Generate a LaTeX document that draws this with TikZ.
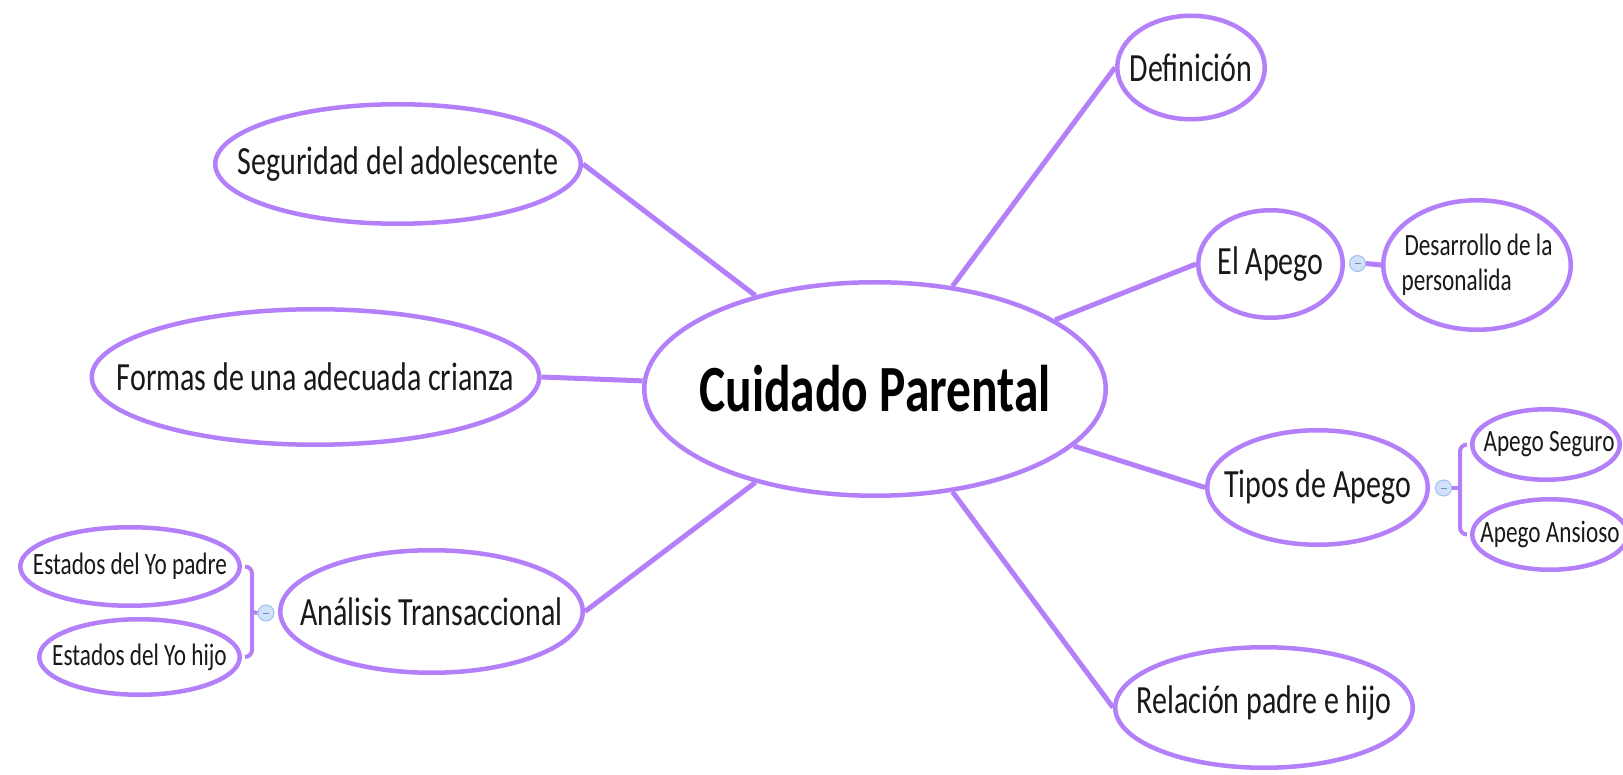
\documentclass[tikz,border=0pt]{standalone}
\usepackage{fontspec}
\setmainfont{Carlito}[FakeStretch=0.75]
\usetikzlibrary{shapes.geometric}
\definecolor{vio}{RGB}{180,128,250}
\definecolor{foldfill}{RGB}{210,225,250}
\definecolor{folddraw}{RGB}{160,190,235}
\definecolor{foldmark}{RGB}{120,140,180}
\definecolor{txt}{RGB}{25,25,25}
\begin{document}
\begin{tikzpicture}[x=1pt,y=-1pt,
  bub/.style={ellipse, draw=vio, line width=4.5pt, fill=white, inner sep=0pt},
  lbl/.style={inner sep=0pt, text=txt, font=\fontsize{40}{48}\selectfont},
  slbl/.style={lbl, font=\fontsize{31}{35}\selectfont},
  conn/.style={draw=vio, line width=5pt},
  brk/.style={draw=vio, line width=4pt, rounded corners=7pt},
  fold/.style={circle, draw=folddraw, fill=foldfill, line width=1pt,
    minimum size=16pt, inner sep=0pt,
    path picture={\draw[foldmark, line width=0.8pt]
      ([xshift=-3pt]path picture bounding box.center) --
      ([xshift=3pt]path picture bounding box.center);}}]
\clip (0,0) rectangle (1623,775);
\fill[white] (0,0) rectangle (1623,775);

% bubbles
\node[bub, minimum width=461.5pt, minimum height=213.5pt] (c) at (875,389) {};
\node[bub, minimum width=147.5pt, minimum height=103.5pt] (def) at (1191,67.5) {};
\node[bub, minimum width=365.5pt, minimum height=119.5pt] (seg) at (398,164) {};
\node[bub, minimum width=447.5pt, minimum height=135.5pt] (for) at (315.5,377) {};
\node[bub, minimum width=302.5pt, minimum height=122.5pt] (ana) at (431.5,611.5) {};
\node[bub, minimum width=297.5pt, minimum height=120.5pt] (rel) at (1264,707.5) {};
\node[bub, minimum width=220.5pt, minimum height=114.5pt] (tip) at (1317.5,487.5) {};
\node[bub, minimum width=144.5pt, minimum height=107.5pt] (ape) at (1270.5,264) {};
\node[bub, minimum width=187.5pt, minimum height=129.5pt] (des) at (1477,265) {};
\node[bub, minimum width=147.5pt, minimum height=70.5pt] (aseg) at (1546,444.5) {};
\node[bub, minimum width=155.5pt, minimum height=70.5pt] (aans) at (1550,534.5) {};
\node[bub, minimum width=219.5pt, minimum height=78.5pt] (ypa) at (130,566.5) {};
\node[bub, minimum width=200.5pt, minimum height=75.5pt] (yhi) at (139.5,657) {};

% labels
\node[lbl, text=black, font=\fontsize{66}{70}\bfseries\selectfont] (ct) at (c) {Cuidado Parental};
\node[lbl] (deft) at (def) {Definición};
\node[lbl] (segt) at (seg) {Seguridad del adolescente};
\node[lbl] (fort) at (for) {Formas de una adecuada crianza};
\node[lbl] (anat) at (ana) {Análisis Transaccional};
\node[lbl] (relt) at ([yshift=4pt]rel.center) {Relación padre e hijo};
\node[lbl] (tipt) at (tip) {Tipos de Apego};
\node[lbl] (apet) at (ape) {El Apego};
\node[slbl, align=left] (dest) at (des) {\hspace{3pt}Desarrollo de la\\personalida};
\node[slbl] (asegt) at ([xshift=3pt]aseg.center) {Apego Seguro};
\node[slbl] (aanst) at (aans) {Apego Ansioso};
\node[slbl] (ypat) at (ypa) {Estados del Yo padre};
\node[slbl] (yhit) at (yhi) {Estados del Yo hijo};

% fold markers
\node[fold] (fape) at (1357.5,263.5) {};
\node[fold] (ftip) at (1443.5,488) {};
\node[fold] (fana) at (266,613) {};
\coordinate (brR) at (1460,488);
\coordinate (brL) at (252,612);

% connectors
\draw[conn] (c.142) -- (seg.east);
\draw[conn] (c.178.5) -- (for.east);
\draw[conn] (c.-142) -- (ana.east);
\draw[conn] (c.53) -- (def.west);
\draw[conn] (c.21) -- (ape.west);
\draw[conn] (c.-16.7) -- (tip.west);
\draw[conn] (c.-53) -- (rel.west);
\draw[conn] (fape.east) -- (des.west);

% brackets
\draw[brk] (ftip.east) -- (brR);
\draw[brk] ([xshift=-3pt]aseg.west) -| (brR) |- ([xshift=-3pt]aans.west);
\draw[brk] (fana.west) -- (brL);
\draw[brk] ([xshift=3pt]ypa.east) -| (brL) |- ([xshift=3pt]yhi.east);
\end{tikzpicture}
\end{document}
